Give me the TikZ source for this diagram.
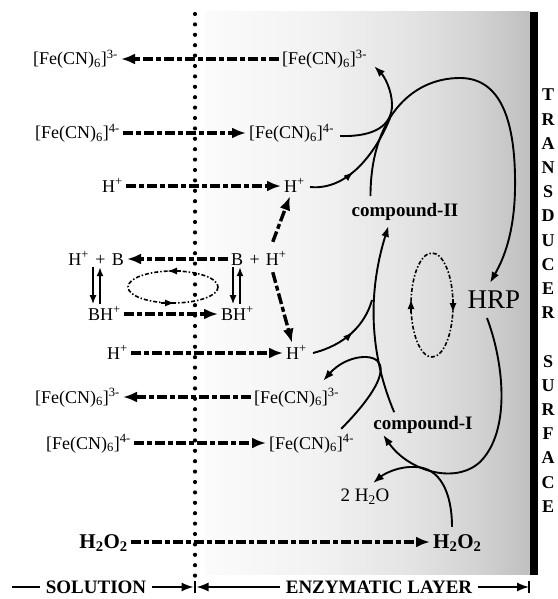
\documentclass[tikz,border=0pt]{standalone}
\usepackage{fontspec}
\setmainfont{Liberation Serif}
\usetikzlibrary{arrows.meta,decorations.markings,calc}
\newcommand{\FeCN}[1]{[Fe(CN)\textsubscript{6}]\textsuperscript{#1}}
\newcommand{\Hp}{H\textsuperscript{+}}
\pgfdeclarehorizontalshading{enzshade}{100bp}{color(0bp)=(gray!3); color(25bp)=(gray!3); color(42bp)=(gray!10); color(57bp)=(gray!22); color(67bp)=(gray!35); color(75bp)=(gray!50); color(100bp)=(gray!50)}
\tikzset{
  lbl/.style={font=\fontsize{18}{20}\selectfont, inner xsep=3pt, inner ysep=0pt, text height=13pt, text depth=1pt},
  blbl/.style={lbl, font=\fontsize{21}{23}\selectfont\bfseries},
  cmp/.style={font=\fontsize{19}{21}\selectfont\bfseries, inner sep=2pt},
  flow/.style={line width=3.3pt, dash pattern=on 10pt off 3pt on 5pt off 3pt, -{Latex[length=14pt,width=11pt]}},
  diag/.style={line width=3.4pt, dash pattern=on 11pt off 3pt on 5pt off 3pt, -{Latex[length=14pt,width=11pt]}},
  rxn/.style={line width=1.9pt, -{Latex[length=11pt,width=8pt]}},
  merge/.style={line width=1.9pt},
  midarrow/.style={postaction={decorate}, decoration={markings, mark=at position #1 with {\arrow{Latex[length=10pt,width=7pt]}}}},
  cyc/.style={line width=1.6pt, dash pattern=on 4pt off 2pt on 1.5pt off 2pt},
  cycarrow/.style={line width=1.6pt, -{Latex[length=10pt,width=7pt]}},
  eqarrow/.style={line width=1.6pt, -{Latex[length=9pt,width=7pt]}},
  bot/.style={font=\fontsize{19}{21}\selectfont\bfseries, inner xsep=6pt, inner ysep=0pt},
  barrow/.style={line width=1.5pt, -{Latex[length=12pt,width=9pt]}},
  side/.style={font=\fontsize{18}{20}\selectfont\bfseries, inner sep=0pt},
}
\begin{document}
\begin{tikzpicture}[x=1pt,y=-1pt]
\useasboundingbox (0,0) rectangle (557,599);
% enzymatic layer background and transducer
\shade[shading=enzshade] (205,12) rectangle (530,574);
\fill[black] (530,12) rectangle (538,575);
% solution / layer boundary
\draw[line width=4.2pt, line cap=round, dash pattern=on 0pt off 10.4pt] (195,14) -- (195,578);

% side lettering
\foreach \ch [count=\i from 0] in {T,R,A,N,S,D,U,C,E,R}
  \node[side] (ts\i) at (548,{95+24.2*\i}) {\ch};
\foreach \ch [count=\i from 11] in {S,U,R,F,A,C,E}
  \node[side] (ts\i) at (548,{95+24.2*\i}) {\ch};

% species labels
\node[lbl, anchor=east] (l1) at (121,59) {\FeCN{3-}};
\node[lbl, anchor=west] (r1) at (279,59) {\FeCN{3-}};
\node[lbl, anchor=east] (l2) at (123,133) {\FeCN{4-}};
\node[lbl, anchor=west] (r2) at (246,133) {\FeCN{4-}};
\node[lbl, anchor=east] (l3) at (126,186) {\Hp};
\node[lbl, anchor=west] (r3) at (281,186) {\Hp};
\node[lbl, anchor=east] (l4) at (127,259) {\Hp\hspace{0.35em}+\hspace{0.35em}B};
\node[lbl, anchor=west] (r4) at (228,259) {B\hspace{0.35em}+\hspace{0.35em}\Hp};
\node[lbl, anchor=east] (l5) at (124,314) {B\Hp};
\node[lbl, anchor=west] (r5) at (218,314) {B\Hp};
\node[lbl, anchor=east] (l6) at (131,353) {\Hp};
\node[lbl, anchor=west] (r6) at (283,353) {\Hp};
\node[lbl, anchor=east] (l7) at (123,397) {\FeCN{3-}};
\node[lbl, anchor=west] (r7) at (251,397) {\FeCN{3-}};
\node[lbl, anchor=east] (l8) at (134,443) {\FeCN{4-}};
\node[lbl, anchor=west] (r8) at (266,443) {\FeCN{4-}};
\node[blbl, anchor=east] (l9) at (131,542) {H\textsubscript{2}O\textsubscript{2}};
\node[blbl, anchor=west] (r9) at (430,542) {H\textsubscript{2}O\textsubscript{2}};

\node[cmp] (c2) at (405,212) {compound-II};
\node[cmp] (c1) at (423,425) {compound-I};
\node[font=\fontsize{27}{29}\selectfont, inner sep=2pt] (hrp) at (494,300) {HRP};
\node[font=\fontsize{19}{21}\selectfont, inner sep=2pt] (w) at (365,497) {2 H\textsubscript{2}O};

% transport arrows
\draw[flow] (r1.west) -- (l1.east);
\draw[flow] (l2.east) -- (r2.west);
\draw[flow] (l3.east) -- (r3.west);
\draw[flow] (r4.west) -- (l4.east);
\draw[flow] (l5.east) -- (r5.west);
\draw[flow] (l6.east) -- (r6.west);
\draw[flow] (r7.west) -- (l7.east);
\draw[flow] (l8.east) -- (r8.west);
\draw[flow] (l9.east) -- (r9.west);

% proton diagonal arrows
\draw[diag] ($(r4.north east)+(-17,-10)$) -- ($(r3.south west)+(9,3)$);
\draw[diag] ($(r4.south east)+(-17,6)$) -- ($(r6.north west)+(9,-3)$);

% buffer equilibria
\draw[eqarrow] ($(l4.south east)+(-34,1)$) -- ($(l4.south east)+(-34,38)$);
\draw[eqarrow] ($(l4.south east)+(-27,38)$) -- ($(l4.south east)+(-27,1)$);
\draw[eqarrow] ($(r4.south west)+(5,1)$) -- ($(r4.south west)+(5,38)$);
\draw[eqarrow] ($(r4.south west)+(12,38)$) -- ($(r4.south west)+(12,1)$);

% cycles
\coordinate (e1) at (173,287);
\coordinate (e2) at (432,305);
\draw[cyc] (e1) ellipse [x radius=45, y radius=16];
\draw[cycarrow] ($(e1)+(8,-16)$) -- ($(e1)+(-6,-16)$);
\draw[cycarrow] ($(e1)+(-12,16)$) -- ($(e1)+(2,16)$);
\draw[cyc] (e2) ellipse [x radius=21, y radius=52];
\draw[cycarrow] ($(e2)+(21,-6)$) -- ($(e2)+(21,8)$);
\draw[cycarrow] ($(e2)+(-21,8)$) -- ($(e2)+(-21,-6)$);

% reaction curves
\coordinate (m1) at (390,118);
\coordinate (m2) at (372,300);
\coordinate (k1) at (392,105);
\coordinate (k2) at (460,78);
\coordinate (k3) at (515,190);
\coordinate (k4) at (380,365);
\coordinate (k5) at (480,462);
\coordinate (k6) at (415,467);

\draw[rxn] ($(c2.north west)+(21,-5)$) .. controls +(0,-76) and +(-50,0) .. (k2)
   .. controls +(45,0) and +(1,-60) .. (k3)
   .. controls +(-1,50) and +(10,-18) .. ($(hrp.north)+(-4,-6)$);
\draw[rxn] ($(r2.east)+(3,3)$) .. controls +(35,1) and +(0,20) .. (k1)
   .. controls +(0,-15) and +(10,10) .. ($(r1.south east)+(4,0)$);
\draw[merge, midarrow=0.42] ($(r3.east)+(2,1)$) .. controls +(40,4) and +(-12,30) .. (m1);
\draw[rxn] ($(c1.north west)+(23,-2)$) .. controls +(-22,-52) and +(-23,74) .. ($(c2.south west)+(39,3)$);
\draw[merge, midarrow=0.55] ($(r6.east)+(3,0)$) .. controls +(32,-8) and +(-7,25) .. (m2);
\draw[rxn] ($(r8.north east)+(-16,-7)$) .. controls +(20,-20) and +(5,15) .. (k4)
   .. controls +(-4,-13) and +(23,-26) .. ($(r7.north east)+(-19,-9)$);
\draw[rxn] ($(hrp.south)+(-7,7)$) .. controls +(16,42) and +(32,-32) .. (k5)
   .. controls +(-25,23) and +(25,36) .. ($(c1.south west)+(12,-1)$);
\draw[rxn] ($(r9.north west)+(22,-8)$) .. controls +(0,-34) and +(25,0) .. (k6)
   .. controls +(-15,-1) and +(12,-10) .. ($(w.north)+(8,-4)$);

% bottom legend
\node[bot] (sol) at (96,587) {SOLUTION};
\node[bot] (enz) at (379,587) {ENZYMATIC LAYER};
\coordinate (b0) at (12,587);
\coordinate (b1) at (195,587);
\coordinate (b2) at (529,587);
\draw[line width=1.5pt] (b0) -- (sol.west);
\draw[barrow, shorten >=1.5pt] (sol.east) -- (b1);
\draw[barrow, shorten >=1.5pt] (enz.west) -- (b1);
\draw[barrow] (enz.east) -- (b2);
\draw[line width=1.2pt] ($(b1)+(0,-6)$) -- ($(b1)+(0,6)$);
\draw[line width=1.2pt] ($(b2)+(0,-6)$) -- ($(b2)+(0,6)$);
\end{tikzpicture}
\end{document}
